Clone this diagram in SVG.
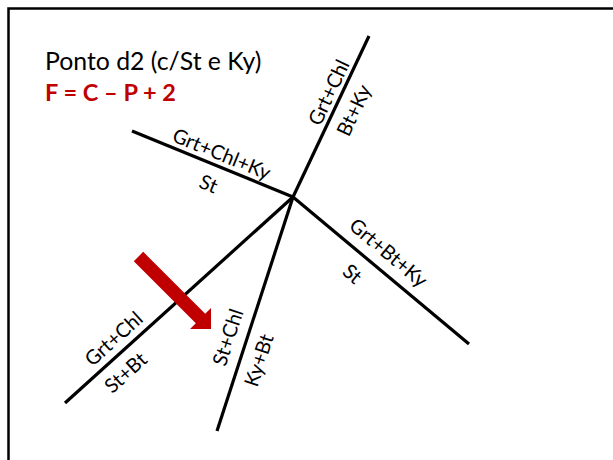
<svg xmlns="http://www.w3.org/2000/svg" width="613" height="460" viewBox="0 0 613 460">
<style>
.ln{stroke:#000;stroke-width:3.2;fill:none;stroke-linecap:butt}
.lb{font-family:Lato,"Liberation Sans",sans-serif;font-size:20px;fill:#000;text-anchor:middle;dominant-baseline:central}
.t{font-family:Lato,"Liberation Sans",sans-serif;font-size:24.8px;fill:#000}
.f{font-family:Lato,"Liberation Sans",sans-serif;font-size:23.5px;font-weight:bold;fill:#C00000}
</style>
<rect width="613" height="460" fill="#fff"/>
<path d="M8.5 460 V8.5 H613" fill="none" stroke="#000" stroke-width="2.5"/>
<g id="title">
<text class="t" x="45" y="70">Ponto d2 (c/St e Ky)</text>
<text class="f" x="45" y="101">F = C – P + 2</text>
</g>
<g id="connectors">
<line class="ln" x1="293" y1="197" x2="369" y2="36"/>
<line class="ln" x1="293" y1="197" x2="132" y2="131"/>
<line class="ln" x1="293" y1="197" x2="469" y2="344"/>
<line class="ln" x1="293" y1="197" x2="65" y2="403"/>
<line class="ln" x1="293" y1="197" x2="217" y2="431"/>
</g>
<g id="labels">
<text class="lb" transform="translate(222,153) rotate(22.3)">Grt+Chl+Ky</text>
<text class="lb" transform="translate(209,183) rotate(22.3)">St</text>
<text class="lb" transform="translate(328,92) rotate(-64.7)">Grt+Chl</text>
<text class="lb" transform="translate(353,110) rotate(-64.7)">Bt+Ky</text>
<text class="lb" transform="translate(389,252) rotate(39.9)">Grt+Bt+Ky</text>
<text class="lb" transform="translate(353,273) rotate(39.9)">St</text>
<text class="lb" transform="translate(113,338) rotate(-42.1)">Grt+Chl</text>
<text class="lb" transform="translate(125,372) rotate(-42.1)">St+Bt</text>
<text class="lb" transform="translate(227,337) rotate(-71.9)">St+Chl</text>
<text class="lb" transform="translate(258,360) rotate(-71.9)">Ky+Bt</text>
</g>
<g id="arrow">
<polygon points="143.2,251.8 205.2,313.8 211,308 211,329 190,329 195.8,323.2 133.8,261.2" fill="#C00000"/>
</g>
</svg>
